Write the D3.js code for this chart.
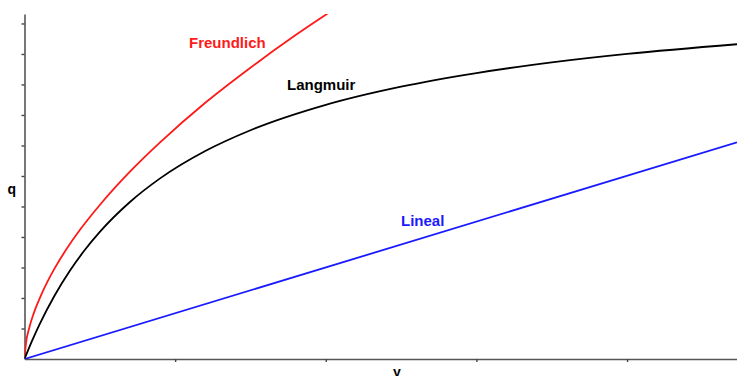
<!DOCTYPE html>
<html>
<head>
<meta charset="utf-8">
<script src="https://cdn.jsdelivr.net/npm/d3@7"></script>
<style>
  html, body { margin: 0; padding: 0; background: #fff; }
  svg { display: block; font-family: "Liberation Sans", Arial, sans-serif; }
</style>
</head>
<body>
<svg id="chart" width="737" height="376"></svg>
<script>
// Isotherm curves: concentration y vs. adsorbed amount q
const langmuirY = [0, 0.05, 0.1, 0.2, 0.3, 0.4, 0.5, 0.7, 0.9, 1.2, 1.5, 2, 2.5, 3, 3.5, 4, 4.73];
const langmuirQ = [0, 0.595, 1.136, 2.083, 2.885, 3.571, 4.167, 5.147, 5.921, 6.818, 7.5, 8.333, 8.929, 9.375, 9.722, 10.0, 10.319];

const freundlichY = [0, 0.01, 0.03, 0.06, 0.1, 0.15, 0.2, 0.3, 0.4, 0.5, 0.7, 0.9, 1.2, 1.5, 1.8, 2.1];
const freundlichQ = [0, 0.52, 0.99, 1.48, 1.98, 2.51, 2.97, 3.76, 4.44, 5.05, 6.14, 7.10, 8.40, 9.55, 10.62, 11.61];

const linealY = [0, 4.73];
const linealQ = [0, 7.1];

const xTicks = [1, 2, 3, 4];
const yTicks = [1, 2, 3, 4, 5, 6, 7, 8, 9, 10, 11];

const seriesNames = ["Freundlich", "Langmuir", "Lineal"];
const seriesColors = ["#ff1a1a", "#000000", "#1a1aff"];

const svg = d3.select("#chart");
const plotLeft = 24.5, plotRight = 737, plotTop = 14, plotBottom = 359;

const x = d3.scaleLinear().domain([0, 4.73]).range([plotLeft, plotRight]);
const y = d3.scaleLinear().domain([0, 11.31]).range([plotBottom, plotTop]);

svg.append("defs").append("clipPath").attr("id", "plot")
  .append("rect").attr("x", plotLeft).attr("y", plotTop)
  .attr("width", plotRight - plotLeft).attr("height", plotBottom - plotTop);

// Axes
const xAxis = svg.append("g").attr("transform", `translate(0,${plotBottom})`)
  .call(d3.axisBottom(x).tickValues(xTicks).tickSize(3).tickSizeOuter(0).tickFormat(""));
const yAxis = svg.append("g").attr("transform", `translate(${plotLeft},0)`)
  .call(d3.axisLeft(y).tickValues(yTicks).tickSize(3).tickSizeOuter(0).tickFormat(""));
[xAxis, yAxis].forEach(g => {
  g.select(".domain").attr("stroke", "#555").attr("stroke-width", 1.6);
  g.selectAll(".tick line").attr("stroke", "#444").attr("stroke-width", 1.4);
});

// Curves
const line = d3.line().x(d => x(d[0])).y(d => y(d[1])).curve(d3.curveMonotoneX);
const series = [
  d3.zip(freundlichY, freundlichQ),
  d3.zip(langmuirY, langmuirQ),
  d3.zip(linealY, linealQ)
];
const plot = svg.append("g").attr("clip-path", "url(#plot)");
series.forEach((pts, i) => {
  plot.append("path").datum(pts)
    .attr("d", line)
    .attr("fill", "none")
    .attr("stroke", seriesColors[i])
    .attr("stroke-width", 1.8);
});

// Curve labels
const labelPos = [[189, 48], [287, 90], [401, 226]];
seriesNames.forEach((name, i) => {
  svg.append("text")
    .attr("x", labelPos[i][0]).attr("y", labelPos[i][1])
    .attr("fill", seriesColors[i])
    .attr("font-size", 15).attr("font-weight", "bold")
    .text(name);
});

// Axis titles
svg.append("text").attr("x", 7.5).attr("y", 194)
  .attr("font-size", 14).attr("font-weight", "bold").text("q");
svg.append("text").attr("x", 393).attr("y", 377)
  .attr("font-size", 14).attr("font-weight", "bold").text("y");
</script>
</body>
</html>
